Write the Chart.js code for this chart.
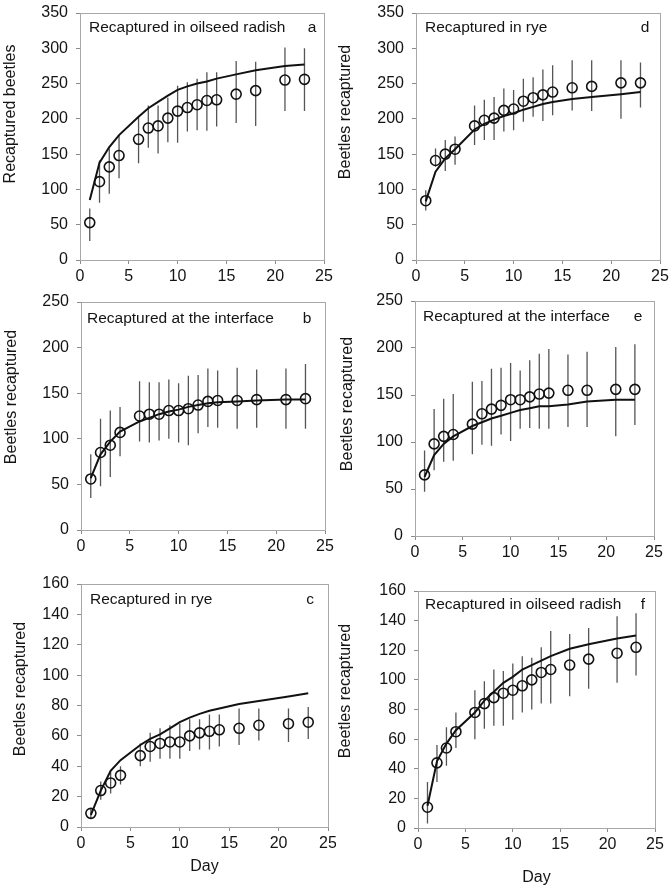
<!DOCTYPE html>
<html>
<head>
<meta charset="utf-8">
<script src="https://cdn.jsdelivr.net/npm/chart.js@4"></script>
<style>
  body { margin: 0; background: #fff; }
  #fig { position: relative; width: 672px; height: 890px; }
  #fig canvas { position: absolute; }
</style>
</head>
<body>
<div id="fig"></div>
<script>
// Sampling days, shared by every panel
const days = [1, 2, 3, 4, 6, 7, 8, 9, 10, 11, 12, 13, 14, 16, 18, 21, 23];
const xTicks = [0, 5, 10, 15, 20, 25];

// a: recaptured in oilseed radish
const aObs = [53, 111, 132, 148, 171, 187, 190, 201, 211, 216, 220, 226, 227, 235, 240, 255, 256];
const aHi  = [73, 141, 158, 177, 202, 219, 219, 230, 247, 252, 257, 266, 266, 282, 281, 301, 300];
const aLo  = [27, 81, 94, 116, 137, 159, 151, 167, 166, 182, 184, 183, 189, 194, 190, 211, 211];
const aFit = [85, 138, 160, 177, 203, 215, 224, 233, 241, 246, 250, 253, 257, 263, 269, 275, 277];

// d: recaptured in rye
const dObs = [84, 141, 150, 157, 190, 198, 201, 212, 214, 225, 230, 234, 238, 244, 246, 251, 251];
const dHi  = [99, 158, 170, 175, 219, 227, 231, 243, 241, 257, 259, 270, 276, 283, 283, 283, 280];
const dLo  = [70, 132, 126, 135, 163, 170, 170, 182, 184, 196, 203, 197, 205, 212, 211, 200, 216];
const dFit = [83, 125, 144, 157, 185, 193, 199, 204, 208, 213, 217, 221, 224, 228, 231, 235, 238];

// b: recaptured at the interface
const bObs = [56, 85, 93, 107, 125, 127, 127, 131, 131, 133, 137, 141, 142, 142, 143, 143, 144];
const bHi  = [83, 122, 131, 135, 163, 162, 162, 165, 161, 169, 170, 177, 175, 178, 176, 177, 182];
const bLo  = [35, 48, 58, 81, 97, 96, 98, 100, 96, 93, 106, 113, 112, 111, 112, 111, 111];
const bFit = [57, 83, 97, 108, 119, 123, 127, 130, 132, 135, 137, 139, 140, 141, 142, 143, 143];

// e: recaptured at the interface
const eObs = [65, 98, 106, 108, 119, 130, 135, 139, 145, 145, 148, 151, 152, 155, 155, 156, 156];
const eHi  = [91, 135, 146, 151, 164, 165, 178, 179, 184, 176, 187, 194, 199, 193, 196, 201, 204];
const eLo  = [47, 70, 79, 80, 87, 97, 96, 108, 101, 114, 115, 114, 114, 116, 116, 106, 118];
const eFit = [63, 86, 98, 106, 117, 121, 125, 128, 131, 134, 136, 138, 138, 140, 143, 145, 145];

// c: recaptured in rye
const cObs = [9, 24, 29, 34, 47, 53, 55, 56, 56, 60, 62, 63, 64, 65, 67, 68, 69];
const cHi  = [12, 30, 36, 40, 55, 62, 65, 67, 68, 71, 71, 74, 74, 78, 78, 78, 79];
const cLo  = [6, 18, 22, 28, 40, 43, 45, 45, 45, 50, 51, 51, 53, 54, 57, 56, 58];
const cFit = [8, 24, 37, 44, 54, 58, 61, 65, 69, 72, 74.5, 76.5, 78, 81, 83, 86, 88];

// f: recaptured in oilseed radish
const fObs = [14, 44, 54, 65, 78, 84, 88, 91, 93, 96, 100, 105, 107, 110, 114, 118, 122];
const fHi  = [31, 56, 68, 78, 93, 99, 107, 106, 111, 116, 115, 122, 133, 131, 135, 143, 145];
const fLo  = [3, 31, 42, 54, 60, 67, 69, 69, 73, 78, 80, 84, 84, 89, 94, 98, 103];
const fFit = [15, 45, 57, 66, 78, 86, 92, 98, 102, 107, 110, 113, 116, 121, 124, 128, 130];

const FONT = "'Liberation Sans', Arial, sans-serif";
const TEXT = '#141414';
const AXIS = '#8a8a8a';

const panels = [
  { obs: aObs, lo: aLo, hi: aHi, fit: aFit, yMax: 350, yStep: 50,
    label: 'Recaptured in oilseed radish', letter: 'a', yTitle: 'Recaptured beetles',
    box: [0, 0, 336, 290], yW: 80, xH: 30, padTop: 13, padRight: 12,
    labelX: 89, labelY: 28, letterX: 312, yTitleX: 11, yTitleY: 114 },
  { obs: dObs, lo: dLo, hi: dHi, fit: dFit, yMax: 350, yStep: 50,
    label: 'Recaptured in rye', letter: 'd', yTitle: 'Beetles recaptured',
    box: [336, 0, 336, 290], yW: 80, xH: 30, padTop: 13, padRight: 12,
    labelX: 89, labelY: 28, letterX: 309, yTitleX: 10, yTitleY: 112 },
  { obs: bObs, lo: bLo, hi: bHi, fit: bFit, yMax: 250, yStep: 50,
    label: 'Recaptured at the interface', letter: 'b', yTitle: 'Beetles recaptured',
    box: [0, 290, 336, 285], yW: 81, xH: 45, padTop: 12, padRight: 11,
    labelX: 87, labelY: 29, letterX: 307, yTitleX: 12, yTitleY: 107 },
  { obs: eObs, lo: eLo, hi: eHi, fit: eFit, yMax: 250, yStep: 50,
    label: 'Recaptured at the interface', letter: 'e', yTitle: 'Beetles recaptured',
    box: [336, 290, 336, 285], yW: 79, xH: 39, padTop: 11, padRight: 18,
    labelX: 87, labelY: 27, letterX: 302, yTitleX: 12, yTitleY: 114 },
  { obs: cObs, lo: cLo, hi: cHi, fit: cFit, yMax: 160, yStep: 20,
    label: 'Recaptured in rye', letter: 'c', yTitle: 'Beetles recaptured',
    box: [0, 575, 336, 315], yW: 81, xH: 63, padTop: 9, padRight: 8,
    labelX: 90, labelY: 25, letterX: 310, yTitleX: 21, yTitleY: 114, xTitlePad: 14 },
  { obs: fObs, lo: fLo, hi: fHi, fit: fFit, yMax: 160, yStep: 20,
    label: 'Recaptured in oilseed radish', letter: 'f', yTitle: 'Beetles recaptured',
    box: [336, 575, 336, 315], yW: 82, xH: 62, padTop: 16, padRight: 17,
    labelX: 89, labelY: 30, letterX: 307, yTitleX: 10, yTitleY: 116, xTitlePad: 3 }
];

// Frame round the plot area, plus the in-plot label, panel letter and y title
const panelDecor = {
  id: 'panelDecor',
  beforeDatasetsDraw(chart) {
    const { ctx, chartArea: ca } = chart;
    ctx.save();
    ctx.strokeStyle = '#a8a8a8';
    ctx.lineWidth = 1;
    ctx.strokeRect(Math.round(ca.left) + 0.5, Math.round(ca.top) + 0.5,
      Math.round(ca.width), Math.round(ca.height));
    ctx.restore();
  },
  afterDraw(chart, args, p) {
    const ctx = chart.ctx;
    ctx.save();
    ctx.fillStyle = TEXT;
    ctx.font = '15.5px ' + FONT;
    ctx.textBaseline = 'middle';
    ctx.textAlign = 'left';
    ctx.fillText(p.label, p.labelX, p.labelY);
    ctx.textAlign = 'center';
    ctx.fillText(p.letter, p.letterX, p.labelY);
    ctx.translate(p.yTitleX, p.yTitleY);
    ctx.rotate(-Math.PI / 2);
    ctx.font = '16px ' + FONT;
    ctx.fillText(p.yTitle, 0, 0);
    ctx.restore();
  }
};

function errorBarPoints(lo, hi) {
  const pts = [];
  days.forEach((d, i) => {
    pts.push({ x: d, y: lo[i] }, { x: d, y: hi[i] }, { x: d, y: null });
  });
  return pts;
}

const fig = document.getElementById('fig');

panels.forEach(p => {
  const [left, top, w, h] = p.box;
  const canvas = document.createElement('canvas');
  canvas.width = w;
  canvas.height = h;
  canvas.style.left = left + 'px';
  canvas.style.top = top + 'px';
  fig.appendChild(canvas);

  const gridOpts = { display: true, drawOnChartArea: false, drawTicks: true, tickLength: 4, color: AXIS };
  const hasDay = p.xTitlePad !== undefined;

  new Chart(canvas, {
    type: 'line',
    data: {
      datasets: [
        {
          // fitted curve
          data: days.map((d, i) => ({ x: d, y: p.fit[i] })),
          borderColor: '#111',
          borderWidth: 2,
          pointRadius: 0,
          tension: 0,
          order: 1
        },
        {
          // error bars
          data: errorBarPoints(p.lo, p.hi),
          borderColor: '#555',
          borderWidth: 1.3,
          pointRadius: 0,
          spanGaps: false,
          order: 2
        },
        {
          // observed means
          data: days.map((d, i) => ({ x: d, y: p.obs[i] })),
          showLine: false,
          pointStyle: 'circle',
          pointRadius: 5,
          pointBorderWidth: 1.6,
          pointBorderColor: '#111',
          pointBackgroundColor: 'rgba(0,0,0,0)',
          order: 0
        }
      ]
    },
    options: {
      responsive: false,
      animation: false,
      events: [],
      layout: { padding: { top: p.padTop, right: p.padRight, left: 0, bottom: 0 } },
      plugins: {
        legend: { display: false },
        tooltip: { enabled: false },
        panelDecor: p
      },
      scales: {
        x: {
          type: 'linear',
          min: 0,
          max: 25,
          afterBuildTicks: s => { s.ticks = xTicks.map(v => ({ value: v })); },
          afterFit: s => {
            // fixed axis height; let layout padding alone decide the plot edges
            s.height = p.xH;
            s.paddingLeft = 0;
            s.paddingRight = 0;
          },
          grid: gridOpts,
          border: { color: AXIS, width: 1 },
          ticks: { color: TEXT, padding: 3, font: { size: 16, family: FONT }, maxRotation: 0 },
          title: {
            display: hasDay,
            text: 'Day',
            color: TEXT,
            font: { size: 16, family: FONT },
            padding: { top: 0, bottom: hasDay ? p.xTitlePad : 0 }
          }
        },
        y: {
          type: 'linear',
          min: 0,
          max: p.yMax,
          afterFit: s => {
            s.width = p.yW;
            s.paddingTop = 0;
            s.paddingBottom = 0;
          },
          grid: gridOpts,
          border: { color: AXIS, width: 1 },
          ticks: { stepSize: p.yStep, color: TEXT, padding: 8, font: { size: 16, family: FONT } }
        }
      }
    },
    plugins: [panelDecor]
  });
});
</script>
</body>
</html>
